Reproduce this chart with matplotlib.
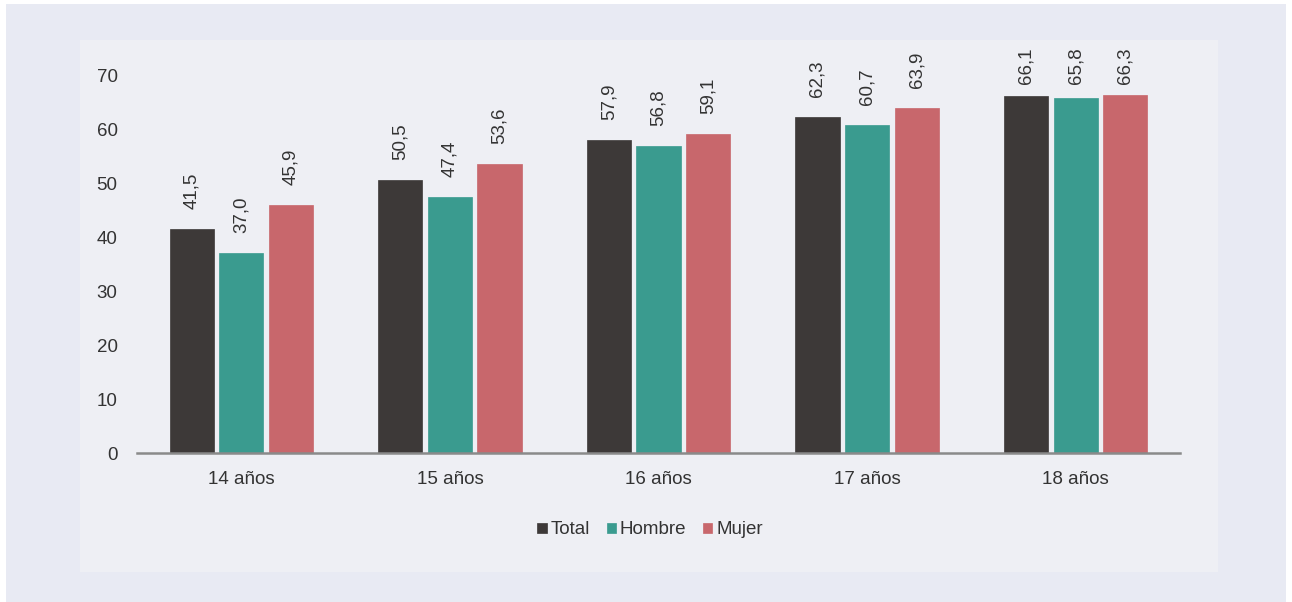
import matplotlib
matplotlib.use("Agg")
import matplotlib.pyplot as plt
import numpy as np
from matplotlib.patches import Rectangle

plt.rcParams['font.family'] = ['Liberation Sans', 'DejaVu Sans']

categories = ["14 años", "15 años", "16 años", "17 años", "18 años"]
series_names = ["Total", "Hombre", "Mujer"]
total = [41.5, 50.5, 57.9, 62.3, 66.1]
hombre = [37.0, 47.4, 56.8, 60.7, 65.8]
mujer = [45.9, 53.6, 59.1, 63.9, 66.3]
yticks = [0, 10, 20, 30, 40, 50, 60, 70]

colors = ["#3d3938", "#3a9b8f", "#c8676c"]
outer_bg = "#e8eaf3"
inner_bg = "#eeeff4"
text_color = "#333333"

fig = plt.figure(figsize=(12.92, 6.02), dpi=100)
fig.patch.set_facecolor("white")
# outer background band
fig.patches.append(Rectangle((6/1292, 0), 1280/1292, 1 - 4/602, transform=fig.transFigure,
                             facecolor=outer_bg, edgecolor="none", zorder=-10))
# inner panel
fig.patches.append(Rectangle((80/1292, 1 - 572/602), (1218 - 80)/1292, (572 - 40)/602,
                             transform=fig.transFigure, facecolor=inner_bg, edgecolor="none", zorder=-9))

ax = fig.add_axes([137/1292, 1 - 453/602, (1180 - 137)/1292, (453 - 75)/602])
ax.set_facecolor("none")
ax.set_zorder(1)

ax.set_xlim(-0.5, 4.5)
ax.set_ylim(0, 70)

x = np.arange(len(categories))
w = 0.212
offs = [-0.238, 0, 0.238]
label_gap = 3.7      # data units between bar top and label
label_cap = 68.4     # labels don't go above this (they stay inside the panel)
for i, (vals, name) in enumerate(zip([total, hombre, mujer], series_names)):
    ax.bar(x + offs[i], vals, width=w, color=colors[i], label=name, zorder=2,
           edgecolor=colors[i], linewidth=0.5)
    for xi, v in zip(x + offs[i], vals):
        ax.text(xi, min(v + label_gap, label_cap), f"{v:.1f}".replace(".", ","),
                rotation=90, ha="center", va="bottom", fontsize=13.5, color=text_color,
                clip_on=False, rotation_mode="default")

ax.set_yticks(yticks)
ax.set_yticklabels([str(t) for t in yticks], fontsize=13.5, color=text_color)
ax.set_xticks(x)
ax.set_xticklabels(categories, fontsize=13.5, color=text_color)
ax.tick_params(axis="both", length=0)
ax.tick_params(axis="y", pad=14)
ax.tick_params(axis="x", pad=13)
for s in ["top", "right", "left"]:
    ax.spines[s].set_visible(False)
ax.spines["bottom"].set_color("#8a8a8a")
ax.spines["bottom"].set_linewidth(1.8)
ax.spines["bottom"].set_zorder(3)

leg = fig.legend(loc="center", bbox_to_anchor=(650/1292, 1 - 530/602), ncol=3, frameon=False,
                 fontsize=13.5, handlelength=0.5, handleheight=0.5, handletextpad=0.2,
                 columnspacing=0.9)
for t in leg.get_texts():
    t.set_color(text_color)

fig.savefig("out.png", dpi=100, facecolor=fig.get_facecolor())
